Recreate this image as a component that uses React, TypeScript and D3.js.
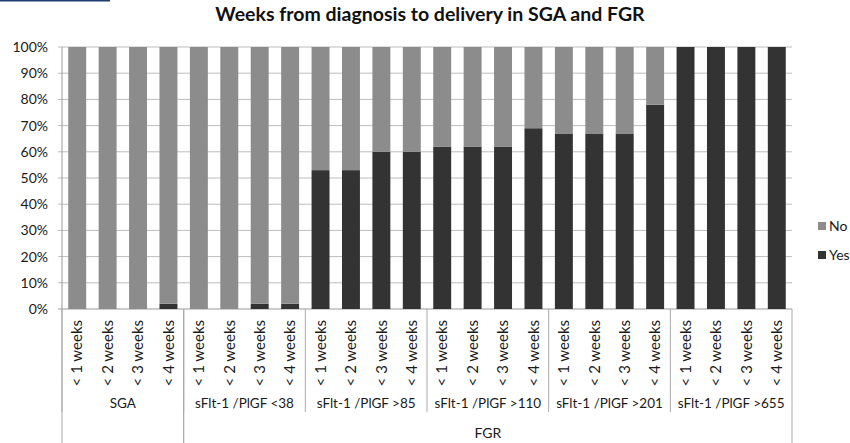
import React from 'react'
import * as d3 from 'd3'

// category structure
const groupLabels = [
    'SGA',
    'sFlt-1 /PlGF <38',
    'sFlt-1 /PlGF >85',
    'sFlt-1 /PlGF >110',
    'sFlt-1 /PlGF >201',
    'sFlt-1 /PlGF >655',
]
const weekLabels = ['< 1 weeks', '< 2 weeks', '< 3 weeks', '< 4 weeks']
const outerLabels = ['', 'FGR']
const outerSpans = [1, 5] // number of groups under each outer label

// share (%) delivered within the period, per group x week
const yesValues = [
    0, 0, 0, 2,
    0, 0, 2, 2,
    53, 53, 60, 60,
    62, 62, 62, 69,
    67, 67, 67, 78,
    100, 100, 100, 100,
]
const noValues = yesValues.map((v) => 100 - v)

const yTicks = [0, 10, 20, 30, 40, 50, 60, 70, 80, 90, 100]
const legendItems = [
    { key: 'No', color: '#8c8c8c' },
    { key: 'Yes', color: '#333333' },
]

const W = 850
const H = 443
const FONT = 'Lato, "Open Sans", sans-serif'

export default function App() {
    const margin = { top: 47, left: 62, right: 792, bottom: 309 }

    const cats = groupLabels.flatMap((g) => weekLabels.map((w) => `${g}|${w}`))
    const x = d3.scaleBand<string>().domain(cats).range([margin.left, margin.right]).paddingInner(0.41).paddingOuter(0.205)
    const y = d3.scaleLinear().domain([0, 100]).range([margin.bottom, margin.top])
    const step = x.step()
    const groupX = (gi: number) => margin.left + gi * weekLabels.length * step

    const stack = d3
        .stack<number>()
        .keys(['Yes', 'No'])
        .value((i, key) => (key === 'Yes' ? yesValues[i] : noValues[i]))(d3.range(cats.length))

    const colorOf = (k: string) => legendItems.find((l) => l.key === k)!.color

    let outerStart = 0
    const outer = outerLabels.map((label, i) => {
        const start = outerStart
        outerStart += outerSpans[i]
        return { label, x0: groupX(start), x1: groupX(outerStart) }
    })

    return (
        <svg width={W} height={H} style={{ position: 'fixed', left: 0, top: 0, background: '#fff' }} fontFamily={FONT}>
            <rect x={0} y={0} width={110} height={1.5} fill="#1f3b73" />
            <text x={430} y={21} textAnchor="middle" fontSize={19.5} fontWeight="bold" fill="#111">
                Weeks from diagnosis to delivery in SGA and FGR
            </text>

            {/* gridlines */}
            {yTicks.map((t) => (
                <g key={t}>
                    <line x1={margin.left - 4} x2={margin.right} y1={y(t)} y2={y(t)} stroke={t === 0 ? '#999' : '#bdbdbd'} strokeWidth={1} />
                    <text x={48} y={y(t)} dy="0.35em" textAnchor="end" fontSize={14} fill="#1a1a1a">
                        {t}%
                    </text>
                </g>
            ))}
            <line x1={margin.left} x2={margin.left} y1={margin.top} y2={margin.bottom} stroke="#999" />

            {/* bars */}
            {stack.map((layer) =>
                layer.map((d, i) => (
                    <rect
                        key={`${layer.key}-${i}`}
                        x={x(cats[i])}
                        width={x.bandwidth()}
                        y={y(d[1])}
                        height={y(d[0]) - y(d[1])}
                        fill={colorOf(layer.key)}
                    />
                )),
            )}

            {/* category labels */}
            {cats.map((c, i) => {
                const cx = x(c)! + x.bandwidth() / 2
                return (
                    <text
                        key={c}
                        transform={`translate(${cx},${320}) rotate(-90)`}
                        textAnchor="end"
                        dy="0.35em"
                        fontSize={15}
                        fill="#1a1a1a"
                    >
                        {weekLabels[i % weekLabels.length]}
                    </text>
                )
            })}

            {/* group separators and labels */}
            {groupLabels.map((g, gi) => (
                <g key={g}>
                    <line x1={groupX(gi)} x2={groupX(gi)} y1={margin.bottom} y2={412} stroke="#aaa" />
                    <text x={(groupX(gi) + groupX(gi + 1)) / 2} y={403} dy="0.35em" textAnchor="middle" fontSize={13.5} fill="#1a1a1a">
                        {g}
                    </text>
                </g>
            ))}
            {outer.map((o) => (
                <g key={o.label + o.x0}>
                    <line x1={o.x0} x2={o.x0} y1={margin.bottom} y2={H} stroke="#aaa" />
                    <line x1={o.x1} x2={o.x1} y1={margin.bottom} y2={H} stroke="#aaa" />
                    <text x={(o.x0 + o.x1) / 2} y={433} dy="0.35em" textAnchor="middle" fontSize={14} fill="#1a1a1a">
                        {o.label}
                    </text>
                </g>
            ))}

            {/* legend */}
            {legendItems.map((l, i) => (
                <g key={l.key} transform={`translate(818,${222 + i * 29})`}>
                    <rect width={8} height={8} fill={l.color} />
                    <text x={11} y={4} dy="0.35em" fontSize={14} fill="#1a1a1a">
                        {l.key}
                    </text>
                </g>
            ))}
        </svg>
    )
}
